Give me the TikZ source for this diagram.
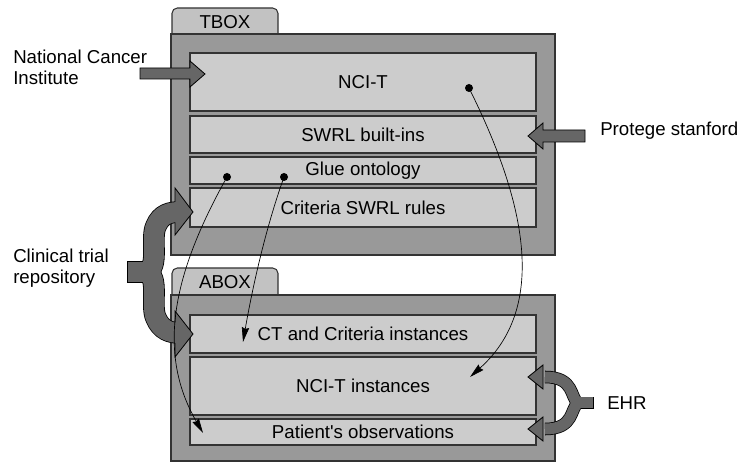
\documentclass[tikz,border=0pt]{standalone}
\usepackage{fontspec}
\setmainfont{Liberation Sans}
\usetikzlibrary{arrows.meta}

\definecolor{framegray}{gray}{0.6}
\definecolor{tabgray}{gray}{0.76}
\definecolor{layergray}{gray}{0.8}
\definecolor{arrowgray}{gray}{0.4}
\definecolor{edgegray}{gray}{0.2}

\tikzset{
  layer/.style={draw=edgegray, line width=0.8pt, fill=layergray, inner sep=0pt,
    minimum width=259.5pt, font=\fontsize{14}{16}\selectfont},
  boxframe/.style={draw=edgegray, line width=0.8pt, fill=framegray},
  boxtab/.style={draw=edgegray, line width=0.8pt, fill=tabgray, rounded corners=4pt},
  source/.style={align=left, inner sep=0pt, font=\fontsize{14}{16}\selectfont},
  blockarrow/.style={draw=black, line width=0.6pt, fill=arrowgray},
  bracerim/.style={draw=black, line width=16.2pt},
  bracebody/.style={draw=arrowgray, line width=15pt},
  rimsmall/.style={draw=black, line width=9.4pt},
  bodysmall/.style={draw=arrowgray, line width=8.25pt},
  dot/.style={circle, fill=black, inner sep=0pt, minimum size=6pt},
  flow/.style={line width=0.5pt, -{Stealth[length=11pt,width=5.5pt,inset=1pt]}}
}

\begin{document}
\begin{tikzpicture}[x=0.75pt,y=0.75pt,yscale=-1,xscale=1]
\useasboundingbox (0,0) rectangle (743,463);

%Shape: TBOX tab and frame
\draw [boxtab] (172,34) -- (172,8) -- (278,8) -- (278,34);
\node [font=\fontsize{14}{16}\selectfont] (tboxlbl) at (225,22) {TBOX};
\draw [boxframe] (171,34) rectangle (555,255);
%Shape: ABOX tab and frame
\draw [boxtab] (172,295) -- (172,268) -- (278,268) -- (278,295);
\node [font=\fontsize{14}{16}\selectfont] (aboxlbl) at (225,282) {ABOX};
\draw [boxframe] (171,295) rectangle (555,461);

% Layers of the TBOX
\node [layer, minimum height=43.5pt] (ncit) at (363,82) {NCI-T};
\node [layer, minimum height=27.75pt] (swrl) at (363,134.5) {SWRL built-ins};
\node [layer, minimum height=20.25pt] (glue) at (363,170.5) {Glue ontology};
\node [layer, minimum height=29.25pt] (rules) at (363,207.5) {Criteria SWRL rules};
% Layers of the ABOX
\node [layer, minimum height=28.5pt] (ctinst) at (363,334) {CT and Criteria instances};
\node [layer, minimum height=43.5pt] (ncitinst) at (363,386) {NCI-T instances};
\node [layer, minimum height=19.5pt] (patobs) at (363,432) {Patient\textquotesingle s observations};

% Text Node
\node [source, anchor=west] (nci) at (13,67) {National Cancer\\Institute};
% Text Node
\node [source, anchor=west] (ctrepo) at (13,268) {Clinical trial\\repository};
% Text Node
\node [source, anchor=west] (protege) at (600,131) {Protege stanford};
% Text Node
\node [source, anchor=west] (ehr) at (607,403) {EHR};

%Shape: Right Arrow
\draw [blockarrow] (140,68) -- (190,68) -- (190,61) -- (205,74) -- (190,87) -- (190,79) -- (140,79) -- cycle;
%Shape: Left Arrow
\draw [blockarrow] (585,130) -- (543,130) -- (543,123) -- (528,136) -- (543,149) -- (543,142) -- (585,142) -- cycle;

%Shape: Brace arrow, clinical trial repository
\coordinate (ctj) at (146,272);
\draw [bracerim] (127,272) -- (149,272);
\draw [bracerim] (ctj) .. controls (160,268) and (150,238) .. (156,226) .. controls (161,214) and (170,212) .. (180,212);
\draw [bracerim] (ctj) .. controls (160,276) and (150,306) .. (156,318) .. controls (161,330) and (170,333) .. (180,333);
\draw [blockarrow] (175,188) -- (193,212) -- (175,235) -- cycle;
\draw [blockarrow] (175,311) -- (193,334) -- (175,357) -- cycle;
\draw [bracebody] (128,272) -- (149,272);
\draw [bracebody] (ctj) .. controls (160,268) and (150,238) .. (156,226) .. controls (161,214) and (170,212) .. (180,212);
\draw [bracebody] (ctj) .. controls (160,276) and (150,306) .. (156,318) .. controls (161,330) and (170,333) .. (180,333);

%Shape: Brace arrow, EHR
\coordinate (ehrj) at (578,403);
\draw [rimsmall] (594,403) -- (575,403);
\draw [rimsmall] (ehrj) .. controls (570,398) and (575,377) .. (545,377);
\draw [rimsmall] (ehrj) .. controls (570,408) and (575,429) .. (545,429);
\draw [blockarrow] (543,365) -- (528,377) -- (543,389) -- cycle;
\draw [blockarrow] (543,417) -- (528,429) -- (543,441) -- cycle;
\draw [bodysmall] (593.2,403) -- (575,403);
\draw [bodysmall] (ehrj) .. controls (570,398) and (575,377) .. (545,377);
\draw [bodysmall] (ehrj) .. controls (570,408) and (575,429) .. (545,429);

% Links from TBOX layers into ABOX layers
\node [dot] (ncitdot) at (469,88) {};
\node [dot] (gluedota) at (227,177) {};
\node [dot] (gluedotb) at (284,177) {};
\coordinate (ncittip) at (470,377);
\coordinate (obstip) at (203,433);
\coordinate (cttip) at (243,342);
\draw [flow] (ncitdot.center) .. controls (530,210) and (545,310) .. (ncittip);
\draw [flow] (gluedota.center) .. controls (175,270) and (155,350) .. (obstip);
\draw [flow] (gluedotb.center) .. controls (265,230) and (252,290) .. (cttip);

\end{tikzpicture}
\end{document}
